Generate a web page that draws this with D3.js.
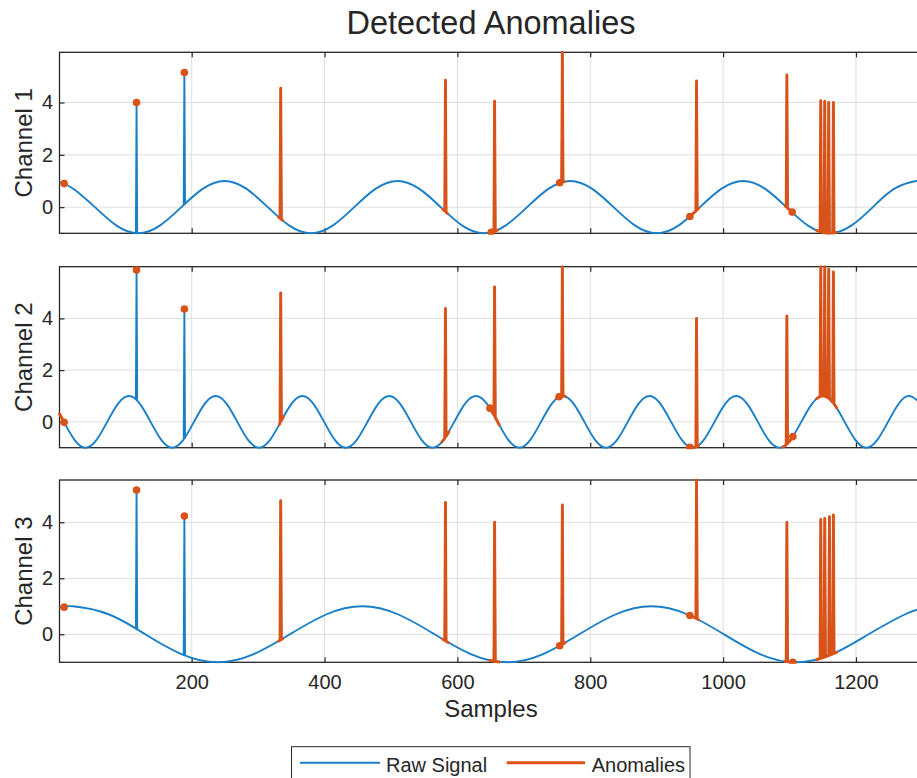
<!DOCTYPE html>
<html><head><meta charset="utf-8">
<script src="https://cdn.jsdelivr.net/npm/d3@7"></script>
<style>
body{margin:0;background:#fff}
svg{display:block}
text{font-family:"Liberation Sans", Arial, Helvetica, sans-serif;fill:#262626}
</style>
</head><body>
<svg id="chart" width="917" height="778"></svg>
<script>
// ---------------- data ----------------
const titleText = "Detected Anomalies";
const xLabel = "Samples";
const channelNames = ["Channel 1", "Channel 2", "Channel 3"];
const legendLabels = ["Raw Signal", "Anomalies"];
const xTicks = [200, 400, 600, 800, 1000, 1200];
const yTicks = [0, 2, 4];
const xDomain = [1, 1300];
const yDomain1 = [-1, 5.92];
const yDomain2 = [-1, 6.0];
const yDomain3 = [-1, 5.51];

// raw signal (smooth part), key samples [sample, value]
const rawBase1 = [[1,0.96],[21.8,0.707],[54.3,0],[86.9,-0.707],[119.4,-1],[151.9,-0.707],[184.5,0],[217,0.707],[249.5,1],[282.1,0.707],[314.6,0],[347.1,-0.707],[379.6,-1],[412.2,-0.707],[444.7,0],[477.2,0.707],[509.8,1],[542.3,0.707],[574.8,0],[607.4,-0.707],[639.9,-1],[672.4,-0.707],[704.9,0],[737.5,0.707],[770,1],[802.5,0.707],[835.1,0],[867.6,-0.707],[900.1,-1],[932.7,-0.707],[965.2,0],[997.7,0.707],[1030.2,1],[1062.8,0.707],[1095.3,0],[1127.8,-0.707],[1160.4,-1],[1192.9,-0.707],[1225.4,0],[1258,0.707],[1290.5,1],[1300,0.97]];
const rawBase2 = [[1,0.31],[7.55,0],[23.9,-0.707],[40.2,-1],[56.5,-0.707],[72.85,0],[89.2,0.707],[105.5,1],[121.8,0.707],[138.15,0],[154.5,-0.707],[170.8,-1],[187.1,-0.707],[203.45,0],[219.8,0.707],[236.1,1],[252.4,0.707],[268.75,0],[285.1,-0.707],[301.4,-1],[317.7,-0.707],[334.05,0],[350.4,0.707],[366.7,1],[383,0.707],[399.35,0],[415.7,-0.707],[432,-1],[448.3,-0.707],[464.65,0],[481,0.707],[497.3,1],[513.6,0.707],[529.95,0],[546.3,-0.707],[562.6,-1],[578.9,-0.707],[595.25,0],[611.6,0.707],[627.9,1],[644.2,0.707],[660.55,0],[676.9,-0.707],[693.2,-1],[709.5,-0.707],[725.85,0],[742.2,0.707],[758.5,1],[774.8,0.707],[791.15,0],[807.5,-0.707],[823.8,-1],[840.1,-0.707],[856.45,0],[872.8,0.707],[889.1,1],[905.4,0.707],[921.75,0],[938.1,-0.707],[954.4,-1],[970.7,-0.707],[987.05,0],[1003.4,0.707],[1019.7,1],[1036,0.707],[1052.35,0],[1068.7,-0.707],[1085,-1],[1101.3,-0.707],[1117.65,0],[1134,0.707],[1150.3,1],[1166.6,0.707],[1182.95,0],[1199.3,-0.707],[1215.6,-1],[1231.9,-0.707],[1248.25,0],[1264.6,0.707],[1280.9,1],[1297.2,0.707],[1300,0.61]];
const rawBase3 = [[1,0.955],[21.2,1],[75.7,0.707],[130.1,0],[184.6,-0.707],[239,-1],[293.4,-0.707],[347.9,0],[402.3,0.707],[456.8,1],[511.2,0.707],[565.6,0],[620.1,-0.707],[674.5,-1],[729,-0.707],[783.4,0],[837.8,0.707],[892.3,1],[946.7,0.707],[1001.2,0],[1055.6,-0.707],[1110,-1],[1164.5,-0.707],[1218.9,0],[1273.4,0.707],[1300,0.92]];

// raw spikes [sample, underlying value, spike value]
const rawSpikes1 = [[117,-1.0,4.0],[189,0.11,5.15],[334,-0.45,4.55],[582,-0.17,4.85],[656,-0.93,4.05],[758,0.96,5.92],[960,-0.12,4.82],[1096,-0.02,5.05],[1147,-0.95,4.07],[1153,-0.985,4.05],[1159,-1,4.0],[1166,-0.99,4.0]];
const rawSpikes2 = [[117,0.85,5.87],[189,-0.64,4.36],[334,0.0,4.98],[582,-0.60,4.39],[656,0.22,5.22],[758,1.0,6.0],[960,-0.96,4.0],[1096,-0.87,4.1],[1147,0.99,6.0],[1153,0.99,6.0],[1159,0.91,5.9],[1166,0.73,5.8]];
const rawSpikes3 = [[117,0.19,5.15],[189,-0.75,4.22],[334,-0.2,4.77],[582,-0.235,4.71],[656,-0.97,4.0],[758,-0.36,4.62],[960,0.56,5.51],[1096,-0.98,3.99],[1147,-0.86,4.1],[1153,-0.81,4.14],[1160,-0.75,4.2],[1166,-0.69,4.26]];

// anomaly runs [sample, value]
const anomalies1 = [
  [[331,-0.39],[333,-0.43],[334,4.55],[335,-0.47],[337,-0.51]],
  [[578,-0.08],[581,-0.15],[582,4.85],[583,-0.19],[585,-0.24]],
  [[651,-0.96],[655,-0.93],[656,4.05],[657,-0.92],[660,-0.88]],
  [[751,0.90],[754,0.93],[757,0.955],[758,5.92],[759,0.965],[761,0.975]],
  [[948,-0.40],[952,-0.32],[955,-0.24],[959,-0.15],[960,4.82],[961,-0.10],[963,-0.05]],
  [[1094,0.03],[1095,0.01],[1096,5.05],[1097,-0.04],[1100,-0.09],[1104,-0.19]],
  [[1141,-0.89],[1146,-0.94],[1147,4.07],[1148,-0.95],[1152,-0.98],[1153,4.05],[1154,-0.99],[1158,-1],[1159,4.0],[1160,-1],[1165,-0.99],[1166,4.0],[1167,-0.99],[1170,-0.97]]
];
const anomalies2 = [
  [[1,0.31],[3,0.22],[5,0.12],[8,-0.02]],
  [[332,-0.10],[333,-0.05],[334,4.98],[335,0.05],[338,0.19]],
  [[577,-0.77],[581,-0.63],[582,4.39],[583,-0.56],[587,-0.39]],
  [[649,0.53],[652,0.40],[655,0.26],[656,5.22],[657,0.17],[660,0.03],[663,-0.12]],
  [[750,0.92],[754,0.98],[757,1.0],[758,6.0],[759,1.0],[762,0.99]],
  [[947,-0.94],[950,-0.98],[955,-1],[959,-0.98],[960,4.0],[961,-0.95],[963,-0.92]],
  [[1090,-0.97],[1093,-0.93],[1095,-0.89],[1096,4.1],[1097,-0.84],[1101,-0.72],[1105,-0.57]],
  [[1141,0.90],[1146,0.98],[1147,6.0],[1148,0.997],[1152,0.997],[1153,6.0],[1154,0.98],[1158,0.93],[1159,5.9],[1160,0.89],[1165,0.76],[1166,5.8],[1167,0.69],[1171,0.54]]
];
const anomalies3 = [
  [[331,-0.24],[333,-0.21],[334,4.77],[335,-0.19],[337,-0.16]],
  [[578,-0.18],[581,-0.22],[582,4.71],[583,-0.25],[586,-0.29]],
  [[649,-0.93],[652,-0.95],[655,-0.97],[656,4.0],[657,-0.975],[660,-0.98],[663,-0.99]],
  [[751,-0.45],[754,-0.41],[757,-0.37],[758,4.62],[759,-0.345],[762,-0.30]],
  [[946,0.71],[950,0.67],[955,0.62],[959,0.57],[960,5.51],[961,0.55],[963,0.52]],
  [[1093,-0.97],[1095,-0.976],[1096,3.99],[1097,-0.98],[1101,-0.99],[1105,-1.0]],
  [[1141,-0.90],[1146,-0.87],[1147,4.1],[1148,-0.85],[1152,-0.82],[1153,4.14],[1154,-0.80],[1159,-0.76],[1160,4.2],[1161,-0.74],[1165,-0.70],[1166,4.26],[1167,-0.68],[1171,-0.64]]
];
// anomaly markers [sample, value]
const markers1 = [[8,0.90],[117,4.0],[189,5.15],[651,-0.96],[754,0.93],[950,-0.36],[1104,-0.19]];
const markers2 = [[8,-0.02],[117,5.87],[189,4.36],[649,0.53],[753,0.97],[950,-0.98],[1105,-0.57]];
const markers3 = [[8,0.97],[117,5.15],[189,4.22],[754,-0.41],[950,0.67],[1105,-1.0]];

// ---------------- drawing ----------------
const BLUE = "#1a7fc6", ORANGE = "#D95319", INK = "#262626";
const svg = d3.select("#chart");
const x = d3.scaleLinear().domain(xDomain).range([59.5, 922.4]);

const panels = [
  {name: channelNames[0], base: rawBase1, spikes: rawSpikes1, anom: anomalies1, marks: markers1, dom: yDomain1, top: 52.3, bottom: 233.3},
  {name: channelNames[1], base: rawBase2, spikes: rawSpikes2, anom: anomalies2, marks: markers2, dom: yDomain2, top: 266.7, bottom: 447.7},
  {name: channelNames[2], base: rawBase3, spikes: rawSpikes3, anom: anomalies3, marks: markers3, dom: yDomain3, top: 480, bottom: 662.3}
];

panels.forEach((p, i) => {
  const y = d3.scaleLinear().domain(p.dom).range([p.bottom, p.top]);
  const g = svg.append("g");
  const x0 = x.range()[0], x1 = x.range()[1];

  // grid
  g.append("g").selectAll("line.v").data(xTicks).join("line")
    .attr("x1", d => x(d)).attr("x2", d => x(d)).attr("y1", p.top).attr("y2", p.bottom)
    .attr("stroke", "#dedede").attr("stroke-width", 1);
  g.append("g").selectAll("line.h").data(yTicks).join("line")
    .attr("x1", x0).attr("x2", x1).attr("y1", d => y(d)).attr("y2", d => y(d))
    .attr("stroke", "#dedede").attr("stroke-width", 1);

  // axes (ticks inward)
  const bottomAxis = d3.axisBottom(x).tickValues(xTicks).tickSizeInner(-5).tickSizeOuter(0).tickPadding(12.5)
    .tickFormat(i === 2 ? d3.format("d") : () => "");
  const ax = g.append("g").attr("transform", `translate(0,${p.bottom})`).call(bottomAxis);
  const topAxis = d3.axisTop(x).tickValues(xTicks).tickSizeInner(-5).tickSizeOuter(0).tickFormat(() => "");
  const at = g.append("g").attr("transform", `translate(0,${p.top})`).call(topAxis);
  const leftAxis = d3.axisLeft(y).tickValues(yTicks).tickSizeInner(-5).tickSizeOuter(0).tickPadding(6.5).tickFormat(d3.format("d"));
  const al = g.append("g").attr("transform", `translate(${x0},0)`).call(leftAxis);
  [ax, at, al].forEach(a => {
    a.select(".domain").remove();
    a.selectAll(".tick line").attr("stroke", INK).attr("stroke-width", 1.2);
    a.selectAll(".tick text").attr("fill", INK).style("font-size", "20px")
      .style("font-family", '"Liberation Sans", Arial, sans-serif');
  });

  // frame
  g.append("rect").attr("x", x0).attr("y", p.top).attr("width", x1 - x0).attr("height", p.bottom - p.top)
    .attr("fill", "none").attr("stroke", INK).attr("stroke-width", 1.3);

  // clip
  const cid = "clip" + i;
  svg.append("clipPath").attr("id", cid).append("rect")
    .attr("x", x0 - 2).attr("y", p.top - 1.5).attr("width", x1 - x0 + 4).attr("height", p.bottom - p.top + 3);
  const dg = g.append("g").attr("clip-path", `url(#${cid})`);

  // raw signal
  const smooth = d3.line().x(d => x(d[0])).y(d => y(d[1])).curve(d3.curveNatural);
  dg.append("path").attr("d", smooth(p.base)).attr("fill", "none")
    .attr("stroke", BLUE).attr("stroke-width", 1.9);
  const straight = d3.line().x(d => x(d[0])).y(d => y(d[1]));
  dg.selectAll("path.spk").data(p.spikes).join("path").attr("class", "spk")
    .attr("d", s => straight([[s[0] - 1, s[1]], [s[0], s[2]], [s[0] + 1, s[1]]]))
    .attr("fill", "none").attr("stroke", BLUE).attr("stroke-width", 1.9).attr("stroke-linejoin", "round");

  // anomalies
  dg.selectAll("path.an").data(p.anom).join("path").attr("class", "an")
    .attr("d", straight).attr("fill", "none").attr("stroke", ORANGE)
    .attr("stroke-width", 2.9).attr("stroke-linejoin", "round").attr("stroke-linecap", "round");
  dg.selectAll("circle").data(p.marks).join("circle")
    .attr("cx", d => x(d[0])).attr("cy", d => y(d[1])).attr("r", 3.8).attr("fill", ORANGE);

  // y label
  svg.append("text").attr("transform", `translate(32,${(p.top + p.bottom) / 2}) rotate(-90)`)
    .attr("text-anchor", "middle").style("font-size", "24px").text(p.name);
});

const cx = (x.range()[0] + x.range()[1]) / 2;
svg.append("text").attr("x", cx).attr("y", 34.3).attr("text-anchor", "middle")
  .style("font-size", "32.5px").text(titleText);
svg.append("text").attr("x", cx).attr("y", 717).attr("text-anchor", "middle")
  .style("font-size", "24px").text(xLabel);

// legend
const lg = svg.append("g");
lg.append("rect").attr("x", 291.5).attr("y", 746.7).attr("width", 398.5).attr("height", 45)
  .attr("fill", "#fff").attr("stroke", INK).attr("stroke-width", 1);
const legendItems = [
  {label: legendLabels[0], color: BLUE, w: 1.9, x1: 300, x2: 380, tx: 386},
  {label: legendLabels[1], color: ORANGE, w: 2.9, x1: 506.7, x2: 585, tx: 591.7}
];
legendItems.forEach(it => {
  lg.append("line").attr("x1", it.x1).attr("x2", it.x2).attr("y1", 762.7).attr("y2", 762.7)
    .attr("stroke", it.color).attr("stroke-width", it.w);
  lg.append("text").attr("x", it.tx).attr("y", 771.7).style("font-size", "20px").text(it.label);
});
</script>
</body></html>
